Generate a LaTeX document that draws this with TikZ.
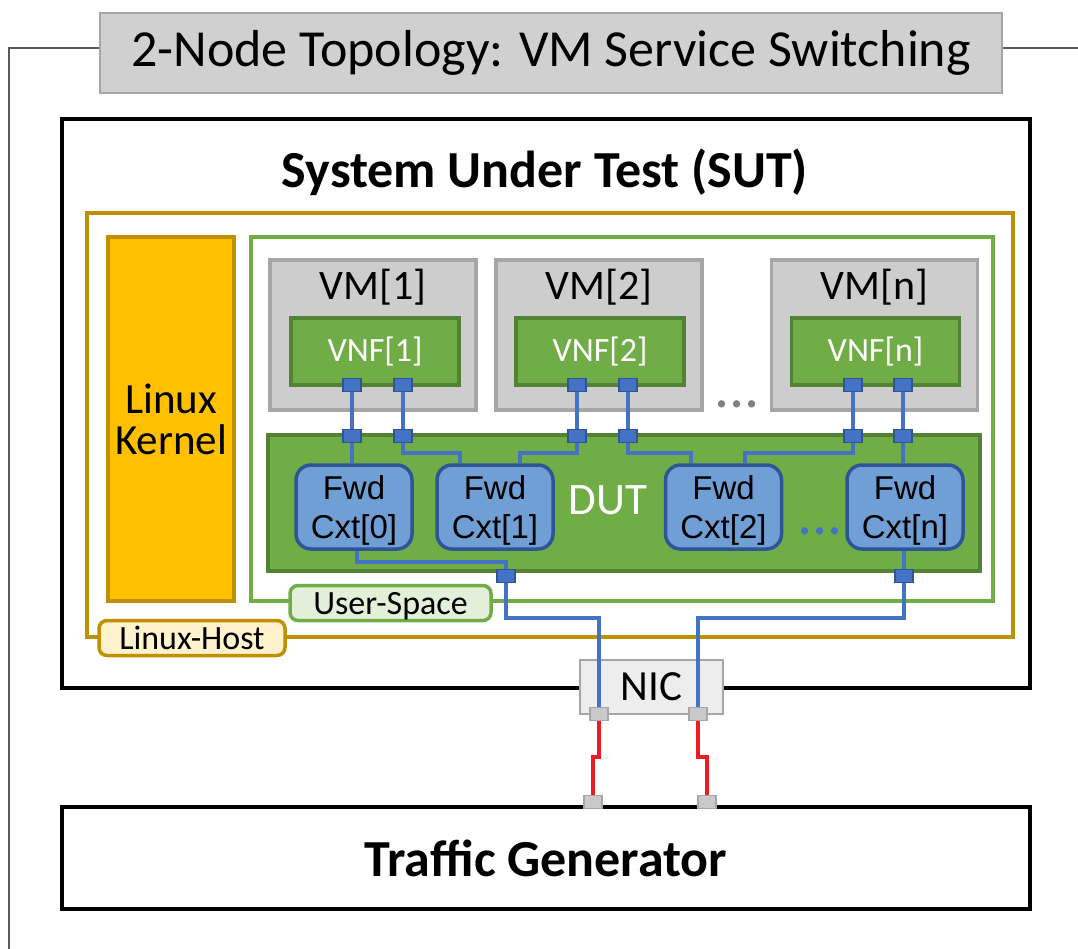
\documentclass[tikz,border=0pt]{standalone}
\usepackage{fontspec}
\setmainfont{Carlito}
\newfontfamily\arialfont{Liberation Sans}
\usetikzlibrary{positioning}
\pgfdeclarelayer{front}
\pgfsetlayers{main,front}
\definecolor{titlefill}{HTML}{D0D0D0}
\definecolor{greyedge}{HTML}{A6A6A6}
\definecolor{vmfill}{HTML}{CDCDCD}
\definecolor{gold}{HTML}{BF9000}
\definecolor{kernelfill}{HTML}{FFC000}
\definecolor{hostfill}{HTML}{FFF2CC}
\definecolor{usergreen}{HTML}{70AD47}
\definecolor{userfill}{HTML}{E2F0D9}
\definecolor{darkgreen}{HTML}{548235}
\definecolor{fwdfill}{HTML}{6F9FD5}
\definecolor{fwdedge}{HTML}{2F5597}
\definecolor{portfill}{HTML}{4472C4}
\definecolor{nicfill}{HTML}{EDEDED}
\definecolor{gportfill}{HTML}{C9C9C9}
\definecolor{wirered}{HTML}{ED1C24}
\definecolor{framegrey}{HTML}{595959}

\begin{document}
\begin{tikzpicture}[x=1pt, y=-1pt, inner sep=0pt,
  frame/.style={draw=black, line width=4.5pt, fill=white},
  bigbold/.style={font=\fontsize{52}{62}\selectfont\bfseries},
  vm/.style={draw=greyedge, fill=vmfill, line width=3.5pt, minimum width=206pt, minimum height=150pt},
  vmlbl/.style={font=\fontsize{42}{50}\selectfont},
  vnf/.style={draw=darkgreen, fill=usergreen, line width=3.5pt, minimum width=168pt, minimum height=67pt, text=white, font=\fontsize{34}{40}\selectfont},
  fwd/.style={draw=fwdedge, fill=fwdfill, line width=3.5pt, rounded corners=15pt, minimum width=116pt, minimum height=84pt, align=center, text depth=0pt, font=\arialfont\fontsize{33}{39}\selectfont},
  tag/.style={line width=3.5pt, rounded corners=8pt, minimum height=35pt, font=\fontsize{34}{40}\selectfont},
  port/.style={draw=fwdedge, fill=portfill, line width=1.5pt, minimum width=18pt, minimum height=13pt},
  gport/.style={port, draw=greyedge, fill=gportfill},
  dots/.style={font=\fontsize{60}{60}\selectfont},
  link/.style={draw=portfill, line width=4pt},
  wire/.style={draw=wirered, line width=4pt}]
  \useasboundingbox (0,0) rectangle (1078,949);

  \coordinate (frameBL) at (9,949);
  \coordinate (frameR) at (1078,48);
  \node[draw=greyedge, fill=titlefill, line width=2pt, minimum width=902pt, minimum height=80pt, font=\fontsize{52}{62}\selectfont] (title) at (551,53) {2-Node Topology: VM Service Switching};
  \draw[framegrey, line width=1.2pt] ([yshift=5pt]title.west) -| (frameBL);
  \draw[framegrey, line width=1.2pt] ([yshift=5pt]title.east) -- (frameR);

  \node[frame, minimum width=968pt, minimum height=569pt] (sut) at (546,403.5) {};
  \node[bigbold] (suttext) at (545,172) {System Under Test (SUT)};
  \node[draw=gold, line width=4pt, minimum width=926pt, minimum height=424pt] (host) at (550,425) {};
  \node[draw=gold, fill=kernelfill, line width=4pt, minimum width=126pt, minimum height=364pt, align=center, font=\fontsize{43}{41}\selectfont] (kernel) at (171,419) {Linux\\Kernel};
  \node[draw=usergreen, line width=4pt, minimum width=742pt, minimum height=364pt] (user) at (622,419) {};
  \node[tag, draw=gold, fill=hostfill, minimum width=186pt] (hosttag) at (192,638) {Linux-Host};
  \node[tag, draw=usergreen, fill=userfill, minimum width=201pt, text depth=0pt] (usertag) at (390.5,603) {User-Space};

  \node[vm] (vm1) at (373,335) {};
  \node[vm] (vm2) at (599,335) {};
  \node[vm] (vmn) at (874.5,335) {};
  \node[vmlbl, below=11pt of vm1.north] {VM[1]};
  \node[vmlbl, below=11pt of vm2.north] {VM[2]};
  \node[vmlbl, below=11pt of vmn.north] {VM[n]};
  \node[vnf] (vnf1) at (375,351.5) {VNF[1]};
  \node[vnf] (vnf2) at (600,351.5) {VNF[2]};
  \node[vnf] (vnfn) at (875.5,351.5) {VNF[n]};
  \node[dots, text=gray] (vmdots) at (737,404) {...};

  \node[draw=darkgreen, fill=usergreen, line width=3.5pt, minimum width=712pt, minimum height=136pt] (dut) at (624,503) {};
  \node[text=white, font=\fontsize{45}{50}\selectfont] (duttext) at (608,500) {DUT};
  \node[fwd] (cxt0) at (354,507) {Fwd\\Cxt[0]};
  \node[fwd] (cxt1) at (495,507) {Fwd\\Cxt[1]};
  \node[fwd] (cxt2) at (723.5,507) {Fwd\\Cxt[2]};
  \node[fwd] (cxtn) at (905,507) {Fwd\\Cxt[n]};
  \node[dots, text=portfill] (cxtdots) at (820,531) {...};

  \node[draw=greyedge, fill=nicfill, line width=2pt, minimum width=143pt, minimum height=54pt, font=\fontsize{43}{50}\selectfont] (nic) at (651.5,687) {NIC};
  \node[frame, minimum width=968pt, minimum height=102pt, bigbold] (tg) at (546,858) {Traffic Generator};

  \begin{pgfonlayer}{front}
    \node[port] (vp11) at (352,385) {};
    \node[port] (vp12) at (403,385) {};
    \node[port] (vp21) at (577,385) {};
    \node[port] (vp22) at (628,385) {};
    \node[port] (vpn1) at (853,385) {};
    \node[port] (vpn2) at (903,385) {};
    \node[port] (dp11) at (352,436) {};
    \node[port] (dp12) at (403,436) {};
    \node[port] (dp21) at (577,436) {};
    \node[port] (dp22) at (628,436) {};
    \node[port] (dpn1) at (853,436) {};
    \node[port] (dpn2) at (903,436) {};
    \node[port] (dq1) at (506,576) {};
    \node[port] (dq2) at (904,576) {};
    \node[gport] (np1) at (599,714) {};
    \node[gport] (np2) at (698,714) {};
    \node[gport] (tp1) at (593,802) {};
    \node[gport] (tp2) at (707,802) {};
  \end{pgfonlayer}

  \draw[link] (vp11) -- (dp11);
  \draw[link] (vp12) -- (dp12);
  \draw[link] (vp21) -- (dp21);
  \draw[link] (vp22) -- (dp22);
  \draw[link] (vpn1) -- (dpn1);
  \draw[link] (vpn2) -- (dpn2);
  \draw[link] (dp11) -- (dp11 |- cxt0.north);
  \draw[link] (dp12) -- ++(0,17) -| ([xshift=-35pt]cxt1.north);
  \draw[link] (dp21) -- ++(0,17) -| ([xshift=25pt]cxt1.north);
  \draw[link] (dp22) -- ++(0,17) -| ([xshift=-33pt]cxt2.north);
  \draw[link] (dpn1) -- ++(0,17) -| ([xshift=21pt]cxt2.north);
  \draw[link] (dpn2) -- (dpn2 |- cxtn.north);
  \draw[link] ([xshift=3pt]cxt0.south) -- ++(0,11) -| (dq1);
  \draw[link] (dq2) -- (dq2 |- cxtn.south);
  \draw[link] (dq1) -- ++(0,42) -| (np1);
  \draw[link] (dq2) -- ++(0,42) -| (np2);
  \draw[wire] (np1) -- ++(0,43) -| (tp1);
  \draw[wire] (np2) -- ++(0,43) -| (tp2);
\end{tikzpicture}
\end{document}
